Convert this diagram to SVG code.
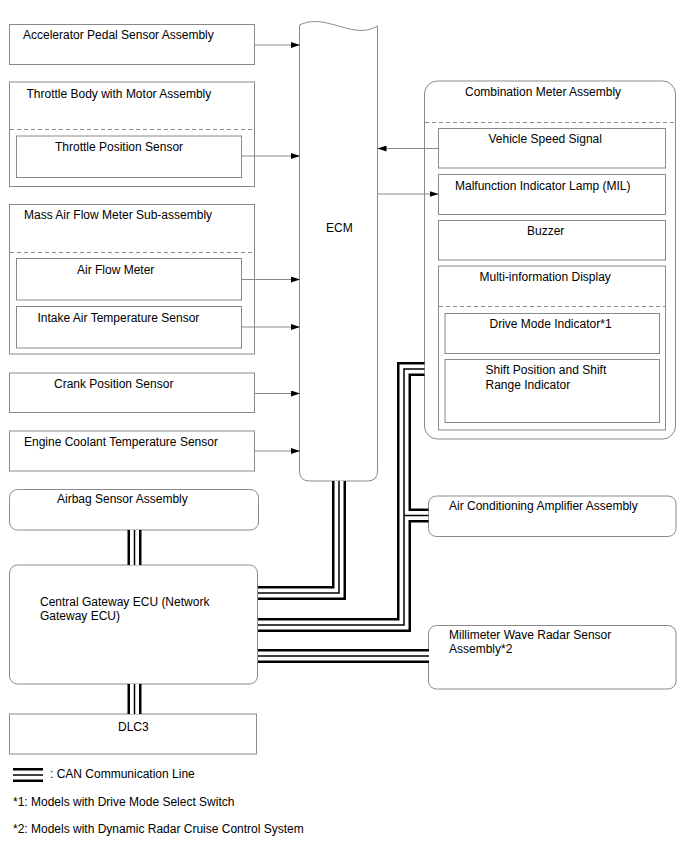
<svg xmlns="http://www.w3.org/2000/svg" xmlns:xlink="http://www.w3.org/1999/xlink" width="688" height="852" viewBox="0 0 688 852">
<style>
.box{fill:#fff;stroke:#8a8a8a;stroke-width:1}
.dash{fill:none;stroke:#8a8a8a;stroke-width:1;stroke-dasharray:4,3}
.t{font-family:"Liberation Sans",Arial,sans-serif;font-size:12px;fill:#000}
.wire{fill:none;stroke:#8a8a8a;stroke-width:1}
.co{fill:none;stroke:#000;stroke-width:14;stroke-linejoin:miter}
.ci{fill:none;stroke:#fff;stroke-width:9;stroke-linejoin:miter}
.cc{fill:none;stroke:#000;stroke-width:1.5;stroke-linejoin:miter}
</style>
<defs>
<marker id="ah" markerUnits="userSpaceOnUse" markerWidth="10" markerHeight="6" refX="9" refY="3" orient="auto">
<path d="M0,0 L9,3 L0,6 Z" fill="#000"/>
</marker>
<path id="c1" d="M339,481 V593 H258"/>
<path id="c2" d="M424.5,369 H404 V625 H258"/>
<path id="c3" d="M428.5,515.5 H404"/>
<path id="c4" d="M258,656 H429"/>
<path id="c5" d="M134.5,530 V565"/>
<path id="c6" d="M134.5,684 V714"/>
<path id="c7" d="M13,775 H43"/>
</defs>
<rect width="688" height="852" fill="#fff"/>

<g id="accel"><rect class="box" x="9.5" y="24.5" width="245" height="40"/><text class="t" x="23" y="39">Accelerator Pedal Sensor Assembly</text></g>
<g id="throttle"><rect class="box" x="9.5" y="82" width="245" height="104.5"/><text class="t" x="26.5" y="98">Throttle Body with Motor Assembly</text><line class="dash" x1="10" y1="129.5" x2="254" y2="129.5"/></g>
<g id="tps"><rect class="box" x="16.5" y="136" width="225" height="41.5"/><text class="t" x="55" y="151">Throttle Position Sensor</text></g>
<g id="maf"><rect class="box" x="9.5" y="204.5" width="245" height="149.5"/><text class="t" x="24" y="219">Mass Air Flow Meter Sub-assembly</text><line class="dash" x1="10" y1="252.5" x2="254" y2="252.5"/></g>
<g id="afm"><rect class="box" x="16.5" y="258.5" width="225" height="41.5"/><text class="t" x="77" y="273.5">Air Flow Meter</text></g>
<g id="iat"><rect class="box" x="16.5" y="306.5" width="225" height="41.5"/><text class="t" x="37.5" y="321.5">Intake Air Temperature Sensor</text></g>
<g id="crank"><rect class="box" x="9.5" y="373" width="245" height="39.5"/><text class="t" x="54" y="387.5">Crank Position Sensor</text></g>
<g id="ect"><rect class="box" x="9.5" y="431" width="245" height="40"/><text class="t" x="24" y="445.5">Engine Coolant Temperature Sensor</text></g>
<g id="airbag"><rect class="box" x="9.5" y="489.5" width="249" height="40.5" rx="8"/><text class="t" x="57" y="503">Airbag Sensor Assembly</text></g>
<g id="gateway"><rect class="box" x="9.5" y="565" width="248" height="119" rx="8"/><text class="t" x="40" y="606">Central Gateway ECU (Network</text><text class="t" x="40" y="620">Gateway ECU)</text></g>
<g id="dlc3"><rect class="box" x="9.5" y="714" width="247" height="40"/><text class="t" x="118" y="731">DLC3</text></g>

<g id="ecm"><path class="box" d="M299.5,25 C318,16 336,27 355,30 C366,31.5 372,29 377.5,26 V471 Q377.5,481 367.5,481 H309.5 Q299.5,481 299.5,471 Z"/><text class="t" x="326" y="232">ECM</text></g>

<g id="combo"><rect class="box" x="424.5" y="81" width="251" height="358" rx="13"/><text class="t" x="465" y="96">Combination Meter Assembly</text><line class="dash" x1="425" y1="122.5" x2="675" y2="122.5"/></g>
<g id="vss"><rect class="box" x="438.5" y="128.5" width="227" height="39.5"/><text class="t" x="488.5" y="143">Vehicle Speed Signal</text></g>
<g id="mil"><rect class="box" x="438.5" y="174.5" width="227" height="40"/><text class="t" x="455" y="189.5">Malfunction Indicator Lamp (MIL)</text></g>
<g id="buzzer"><rect class="box" x="438.5" y="220.5" width="227" height="39.5"/><text class="t" x="527" y="235">Buzzer</text></g>
<g id="mid"><rect class="box" x="438.5" y="266" width="227" height="164"/><text class="t" x="479.5" y="280.5">Multi-information Display</text><line class="dash" x1="439" y1="306.5" x2="665" y2="306.5"/></g>
<g id="drivemode"><rect class="box" x="445" y="313.5" width="214.5" height="40"/><text class="t" x="489.5" y="327.5">Drive Mode Indicator*1</text></g>
<g id="shift"><rect class="box" x="445" y="359.5" width="214.5" height="63"/><text class="t" x="485.5" y="374">Shift Position and Shift</text><text class="t" x="485.5" y="389">Range Indicator</text></g>

<g id="acamp"><rect class="box" x="428.5" y="496" width="247.5" height="40.5" rx="8"/><text class="t" x="449" y="509.5">Air Conditioning Amplifier Assembly</text></g>
<g id="mmwave"><rect class="box" x="428.5" y="625.5" width="247.5" height="63.5" rx="8"/><text class="t" x="449" y="639">Millimeter Wave Radar Sensor</text><text class="t" x="449" y="653">Assembly*2</text></g>

<g id="connectors">
<line class="wire" x1="254.5" y1="45" x2="300" y2="45" marker-end="url(#ah)"/>
<line class="wire" x1="241.5" y1="156" x2="300" y2="156" marker-end="url(#ah)"/>
<line class="wire" x1="241.5" y1="279.5" x2="300" y2="279.5" marker-end="url(#ah)"/>
<line class="wire" x1="241.5" y1="327" x2="300" y2="327" marker-end="url(#ah)"/>
<line class="wire" x1="254.5" y1="393.5" x2="300" y2="393.5" marker-end="url(#ah)"/>
<line class="wire" x1="254.5" y1="451" x2="300" y2="451" marker-end="url(#ah)"/>
<line class="wire" x1="438.5" y1="148.5" x2="377.5" y2="148.5" marker-end="url(#ah)"/>
<line class="wire" x1="377.5" y1="194" x2="438.5" y2="194" marker-end="url(#ah)"/>
<g class="co"><use xlink:href="#c1"/><use xlink:href="#c2"/><use xlink:href="#c3"/><use xlink:href="#c4"/><use xlink:href="#c5"/><use xlink:href="#c6"/><use xlink:href="#c7"/></g>
<g class="ci"><use xlink:href="#c1"/><use xlink:href="#c2"/><use xlink:href="#c3"/><use xlink:href="#c4"/><use xlink:href="#c5"/><use xlink:href="#c6"/><use xlink:href="#c7"/></g>
<g class="cc"><use xlink:href="#c1"/><use xlink:href="#c2"/><use xlink:href="#c3"/><use xlink:href="#c4"/><use xlink:href="#c5"/><use xlink:href="#c6"/><use xlink:href="#c7"/></g>
</g>

<g id="legend">
<text class="t" x="50" y="778">: CAN Communication Line</text>
<text class="t" x="13" y="806">*1: Models with Drive Mode Select Switch</text>
<text class="t" x="13" y="832.5">*2: Models with Dynamic Radar Cruise Control System</text>
</g>
</svg>
